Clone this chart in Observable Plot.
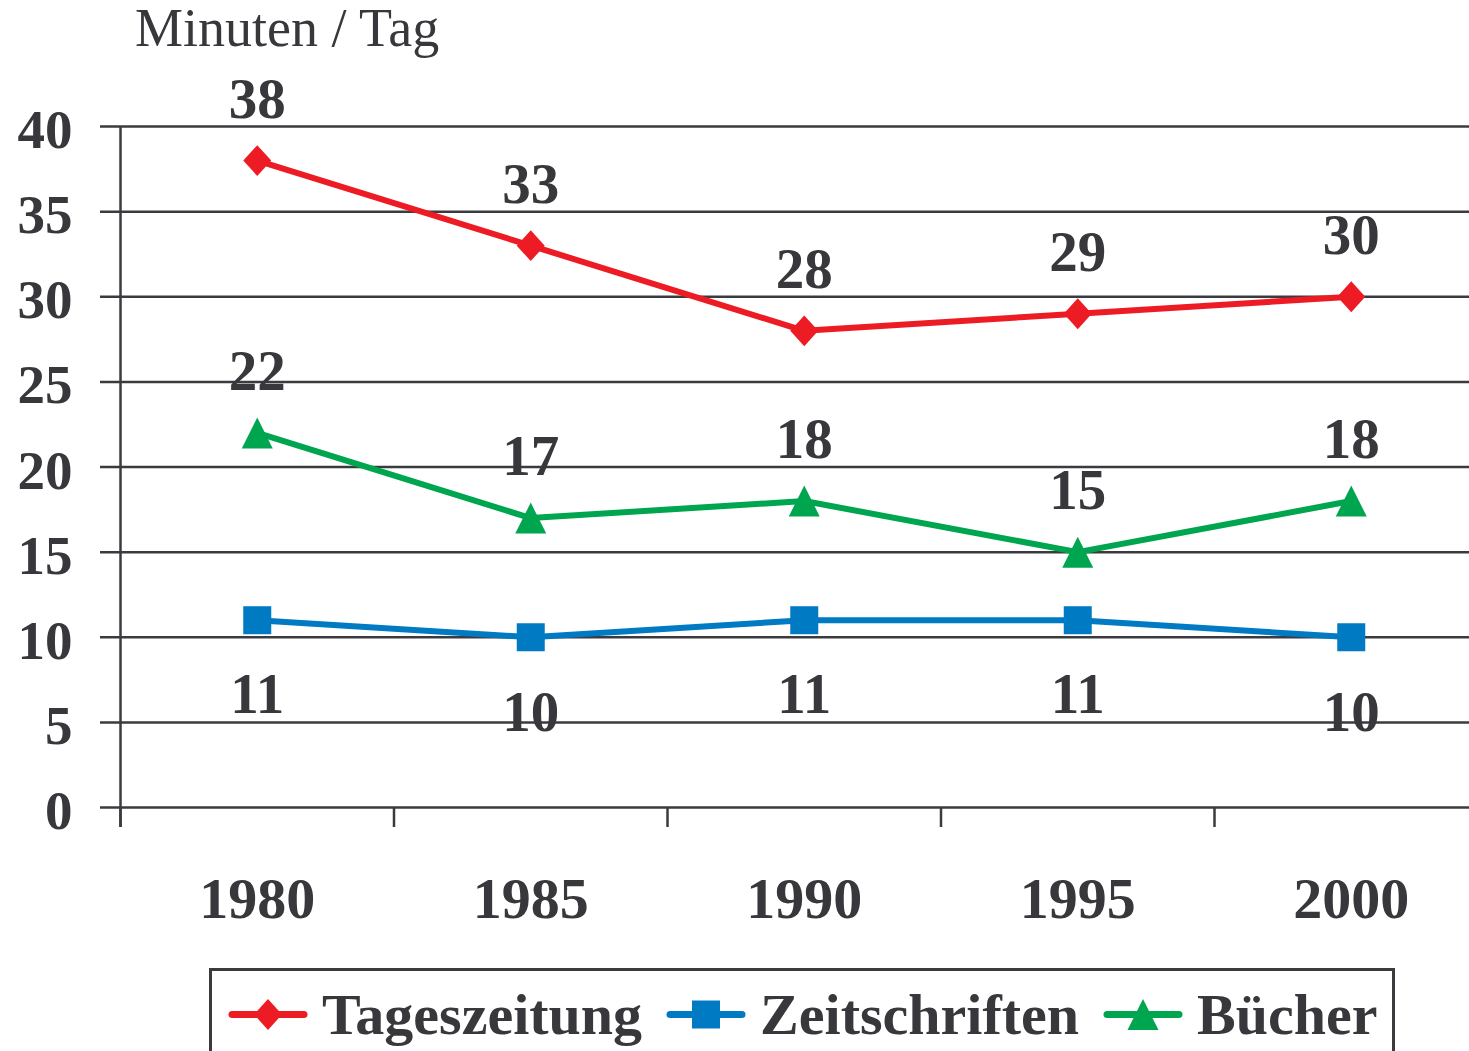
<!DOCTYPE html>
<html>
<head>
<meta charset="utf-8">
<script src="https://cdn.jsdelivr.net/npm/d3@7"></script>
<script src="https://cdn.jsdelivr.net/npm/@observablehq/plot@0.6"></script>
<style>
  html, body { margin: 0; padding: 0; background: #fff; overflow: hidden; width: 1469px; height: 1051px; }
  #title { font: 54px "Liberation Serif", "Times New Roman", serif; color: #38373c; padding-left: 135px; line-height: 56px; height: 56px; white-space: nowrap; }
  #legendwrap { margin-top: 12px; }
  #legend { box-sizing: border-box; margin-left: 209px; width: 1186px; height: 110px; border: 3px solid #3b3b3f; padding: 12px 0 0 16px; display: flex; align-items: flex-start; }
  .item { display: flex; align-items: center; }
  .item svg { display: block; margin-right: 14px; }
  .item span { font: bold 58px "Liberation Serif", "Times New Roman", serif; color: #38373c; margin-right: 24px; white-space: nowrap; line-height: 63px; }
</style>
</head>
<body>
<div id="title">Minuten / Tag</div>
<div id="chart"></div>
<div id="legendwrap"><div id="legend"></div></div>
<script>
const years = [1980, 1985, 1990, 1995, 2000];
const tageszeitung = [38, 33, 28, 29, 30];
const zeitschriften = [11, 10, 11, 11, 10];
const buecher = [22, 17, 18, 15, 18];
const seriesNames = ["Tageszeitung", "Zeitschriften", "Bücher"];
const seriesColors = ["#ED1C24", "#007AC2", "#00A550"];
const yTicks = [0, 5, 10, 15, 20, 25, 30, 35, 40];
const categoryEdges = [1977.5, 1982.5, 1987.5, 1992.5, 1997.5, 2002.5];

const textColor = "#38373c";
const gridColor = "#3b3b3f";
const serif = "'Liberation Serif', 'Times New Roman', serif";

// custom marker shapes (r = half width)
function shape(kind) {
  return {
    draw(ctx, size) {
      const r = Math.sqrt(size / Math.PI);
      if (kind === "diamond") {
        const h = r * 1.1;
        ctx.moveTo(0, -h); ctx.lineTo(r, 0); ctx.lineTo(0, h); ctx.lineTo(-r, 0); ctx.closePath();
      } else if (kind === "square") {
        ctx.rect(-r, -r, 2 * r, 2 * r);
      } else {
        ctx.moveTo(0, -r); ctx.lineTo(r, r); ctx.lineTo(-r, r); ctx.closePath();
      }
    }
  };
}
const symbols = [shape("diamond"), shape("square"), shape("triangle")];
const markerR = [14, 14, 15.5];
const labelDy = [-61, 75, -61];

const seriesValues = [tageszeitung, zeitschriften, buecher];
const seriesData = seriesValues.map((vals, s) =>
  years.map((yr, i) => ({year: yr, value: vals[i], series: seriesNames[s]})));

const marks = [
  Plot.ruleY(yTicks, {stroke: gridColor, strokeWidth: 2.5, insetLeft: -20}),
  Plot.ruleX([categoryEdges[0]], {stroke: gridColor, strokeWidth: 2.5, insetBottom: -20}),
  Plot.axisX({ticks: categoryEdges, tickSize: 20, tickFormat: () => "", stroke: gridColor, strokeWidth: 2.5, label: null}),
  Plot.axisX({ticks: years, tickSize: 0, tickPadding: 69, tickFormat: d => String(d), fontSize: 58, fontWeight: "bold", fill: textColor, label: null}),
  Plot.axisY({ticks: yTicks, tickSize: 0, tickPadding: 48, fontSize: 55, fontWeight: "bold", fill: textColor, dy: 4, label: null, tickFormat: d => String(d)})
];
seriesData.forEach((data, s) => {
  marks.push(Plot.line(data, {x: "year", y: "value", stroke: seriesColors[s], strokeWidth: 6}));
});
seriesData.forEach((data, s) => {
  marks.push(Plot.dot(data, {x: "year", y: "value", fill: seriesColors[s], stroke: "none", symbol: symbols[s], r: markerR[s]}));
  marks.push(Plot.text(data, {x: "year", y: "value", text: d => String(d.value), dy: labelDy[s], fontSize: 57, fontWeight: "bold", fill: textColor}));
});

const chart = Plot.plot({
  width: 1469,
  height: 900,
  marginTop: 70,
  marginBottom: 149,
  marginLeft: 120,
  marginRight: 0,
  style: {fontFamily: serif, color: textColor, background: "white"},
  x: {type: "linear", domain: [categoryEdges[0], categoryEdges[categoryEdges.length - 1]], range: [120, 1487.5]},
  y: {domain: [0, 40]},
  marks
});
document.getElementById("chart").appendChild(chart);

// legend
const legend = document.getElementById("legend");
seriesNames.forEach((name, s) => {
  const item = document.createElement("div");
  item.className = "item";
  const sw = d3.create("svg").attr("width", 80).attr("height", 63);
  sw.append("line").attr("x1", 4).attr("x2", 76).attr("y1", 31.5).attr("y2", 31.5)
    .attr("stroke", seriesColors[s]).attr("stroke-width", 7).attr("stroke-linecap", "round");
  sw.append("path").attr("transform", "translate(40,31.5)")
    .attr("d", d3.symbol(symbols[s], Math.PI * markerR[s] * markerR[s])())
    .attr("fill", seriesColors[s]);
  item.appendChild(sw.node());
  const label = document.createElement("span");
  label.textContent = name;
  item.appendChild(label);
  legend.appendChild(item);
});
</script>
</body>
</html>
